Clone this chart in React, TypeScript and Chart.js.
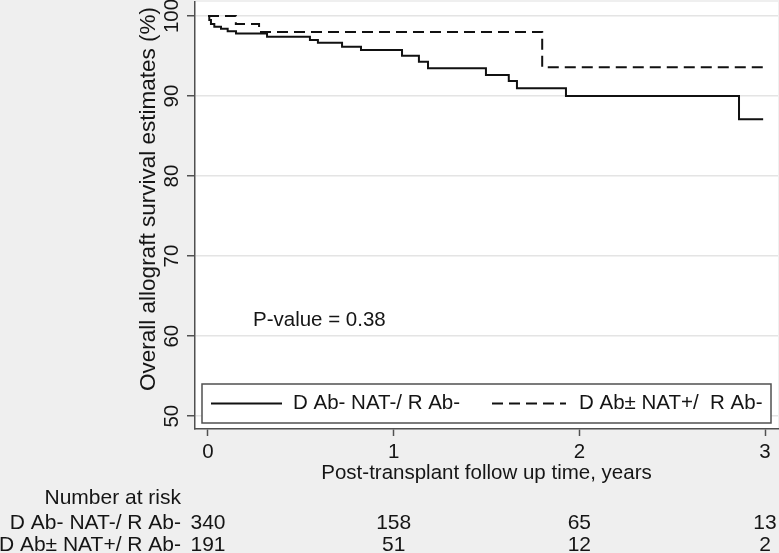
import React, { useEffect, useRef } from "react";
import { Chart, registerables } from "chart.js";

Chart.register(...registerables);

// ---- Data ----
const solidTimes = [0, 0.007, 0.016, 0.034, 0.07, 0.106, 0.151, 0.318, 0.549, 0.592, 0.722, 0.824, 1.045, 1.136, 1.185, 1.497, 1.62, 1.664, 1.928, 2.86, 2.99];
const solidSurvival = [100, 99.5, 99.0, 98.66, 98.4, 98.1, 97.8, 97.41, 97.0, 96.66, 96.16, 95.75, 95.04, 94.29, 93.46, 92.63, 91.88, 90.96, 90.0, 87.09, 87.09];
const dashedTimes = [0, 0.15, 0.275, 1.8, 2.99];
const dashedSurvival = [100, 99.0, 98.0, 93.6, 93.6];

const xTickValues = [0, 1, 2, 3];
const yTickValues = [50, 60, 70, 80, 90, 100];

const legendLabels = ["D Ab- NAT-/ R Ab-", "D Ab\u00B1 NAT+/  R Ab-"];
const riskHeader = "Number at risk";
const riskGroupLabels = ["D Ab- NAT-/ R Ab-", "D Ab\u00B1 NAT+/ R Ab-"];
const riskTimes = [0, 1, 2, 3];
const riskSolid = [340, 158, 65, 13];
const riskDashed = [191, 51, 12, 2];
const pValueText = "P-value = 0.38";
const xTitle = "Post-transplant follow up time, years";
const yTitle = "Overall allograft survival estimates (%)";

const FONT = '"Liberation Sans", Arial, sans-serif';
const TEXT = "#151515";
const AXIS = "#505050";
const BG = "#efefef";

export default function App() {
  const ref = useRef<HTMLCanvasElement | null>(null);

  useEffect(() => {
    const canvas = ref.current;
    if (!canvas) return;

    const bgPlugin = {
      id: "bgPlugin",
      beforeDraw(chart: any) {
        const { ctx, chartArea } = chart;
        ctx.save();
        ctx.fillStyle = BG;
        ctx.fillRect(0, 0, chart.width, chart.height);
        ctx.fillStyle = "#ffffff";
        ctx.fillRect(chartArea.left, chartArea.top, chartArea.right - chartArea.left, chartArea.bottom - chartArea.top);
        ctx.restore();
      },
    };

    const textPlugin = {
      id: "textPlugin",
      afterDraw(chart: any) {
        const { ctx, chartArea } = chart;
        const xs = chart.scales.x;
        const ys = chart.scales.y;
        ctx.save();
        ctx.fillStyle = TEXT;

        // y tick labels (rotated)
        ctx.font = `20.5px ${FONT}`;
        ctx.textAlign = "center";
        ctx.textBaseline = "alphabetic";
        ys.ticks.forEach((t: any) => {
          const py = ys.getPixelForValue(t.value);
          ctx.save();
          ctx.translate(177.5, py);
          ctx.rotate(-Math.PI / 2);
          ctx.fillText(String(t.value), 0, 0);
          ctx.restore();
        });

        // y title
        ctx.save();
        ctx.font = `22.5px ${FONT}`;
        ctx.translate(155, 199);
        ctx.rotate(-Math.PI / 2);
        ctx.fillText(yTitle, 0, 0);
        ctx.restore();

        // x title
        ctx.font = `20.5px ${FONT}`;
        ctx.textAlign = "center";
        ctx.textBaseline = "middle";
        ctx.fillText(xTitle, (chartArea.left + chartArea.right) / 2, 473);

        // p-value
        ctx.textAlign = "left";
        ctx.fillText(pValueText, 253, 320);

        // legend
        const lx0 = 202, lx1 = 771, ly0 = 384, ly1 = 423;
        ctx.fillStyle = "#ffffff";
        ctx.fillRect(lx0, ly0, lx1 - lx0, ly1 - ly0);
        ctx.strokeStyle = AXIS;
        ctx.lineWidth = 1.5;
        ctx.strokeRect(lx0, ly0, lx1 - lx0, ly1 - ly0);
        const lyc = (ly0 + ly1) / 2;
        ctx.strokeStyle = "#111111";
        ctx.lineWidth = 2;
        ctx.beginPath();
        ctx.moveTo(211, lyc);
        ctx.lineTo(282, lyc);
        ctx.stroke();
        ctx.setLineDash([11, 6]);
        ctx.beginPath();
        ctx.moveTo(492, lyc);
        ctx.lineTo(566, lyc);
        ctx.stroke();
        ctx.setLineDash([]);
        ctx.fillStyle = TEXT;
        ctx.textAlign = "left";
        ctx.fillText(legendLabels[0], 293, lyc);
        ctx.fillText(legendLabels[1], 579, lyc);

        // number at risk table
        ctx.font = `21px ${FONT}`;
        ctx.textAlign = "right";
        ctx.fillText(riskHeader, 181, 498);
        ctx.fillText(riskGroupLabels[0], 181, 523);
        ctx.fillText(riskGroupLabels[1], 181, 545);
        ctx.textAlign = "center";
        riskTimes.forEach((t, i) => {
          const px = xs.getPixelForValue(t);
          ctx.fillText(String(riskSolid[i]), px, 523);
          ctx.fillText(String(riskDashed[i]), px, 545);
        });

        ctx.restore();
      },
    };

    const chart = new Chart(canvas, {
      type: "line",
      data: {
        datasets: [
          {
            label: legendLabels[0],
            data: solidTimes.map((t, i) => ({ x: t, y: solidSurvival[i] })),
            borderColor: "#111111",
            borderWidth: 2,
            pointRadius: 0,
            stepped: "before",
            fill: false,
          },
          {
            label: legendLabels[1],
            data: dashedTimes.map((t, i) => ({ x: t, y: dashedSurvival[i] })),
            borderColor: "#111111",
            borderWidth: 2,
            borderDash: [11, 6],
            pointRadius: 0,
            stepped: "before",
            fill: false,
          },
        ],
      },
      options: {
        animation: false,
        responsive: false,
        devicePixelRatio: 1,
        layout: { padding: { left: 0, top: 2, right: 1, bottom: 0 } },
        plugins: { legend: { display: false }, tooltip: { enabled: false } },
        scales: {
          x: {
            type: "linear",
            min: -0.07,
            max: 3.07,
            afterBuildTicks: (s: any) => {
              s.ticks = xTickValues.map((v) => ({ value: v }));
            },
            afterFit: (s: any) => {
              s.height = 124;
            },
            grid: { drawOnChartArea: false, tickLength: 7, tickColor: AXIS, tickWidth: 1.5 },
            border: { color: AXIS, width: 1.5 },
            ticks: {
              font: { family: FONT, size: 20.5 },
              color: TEXT,
              padding: 4,
              autoSkip: false,
              maxRotation: 0,
              callback: (v: any) => String(v),
            },
          },
          y: {
            type: "linear",
            min: 48.4,
            max: 101.75,
            afterBuildTicks: (s: any) => {
              s.ticks = yTickValues.map((v) => ({ value: v }));
            },
            afterFit: (s: any) => {
              s.width = 195;
            },
            grid: { color: "#e4e4e4", lineWidth: 1.5, tickLength: 8, tickColor: AXIS, tickWidth: 1.5 },
            border: { color: AXIS, width: 1.5 },
            ticks: { display: false },
          },
        },
      } as any,
      plugins: [bgPlugin, textPlugin],
    });

    return () => chart.destroy();
  }, []);

  return (
    <div style={{ position: "fixed", left: 0, top: 0, width: 779, height: 553, background: BG }}>
      <canvas ref={ref} width={779} height={553} style={{ display: "block", width: 779, height: 553 }} />
    </div>
  );
}
